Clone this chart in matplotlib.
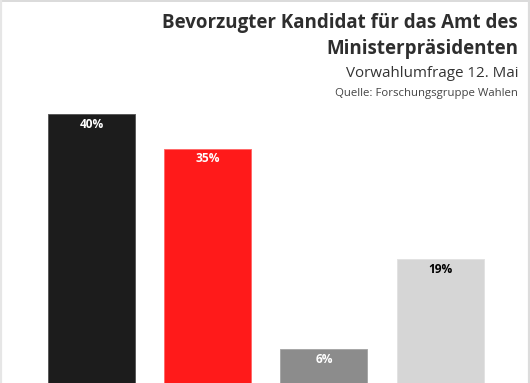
import matplotlib.pyplot as plt
from matplotlib.lines import Line2D

# Daten der Umfrage
kandidaten = ["CDU", "SPD", "Andere", "Weiß nicht"]
werte = [40, 35, 6, 19]
farben = ["#1c1c1c", "#ff1a1a", "#8c8c8c", "#d6d6d6"]
randfarben = ["#5a5a5a", "#ff6a6a", "#a8a8a8", "#e2e2e2"]
labelfarben = ["white", "white", "white", "black"]

plt.rcParams['font.family'] = ['Open Sans', 'DejaVu Sans']

W, H = 530, 383
fig = plt.figure(figsize=(W / 100, H / 100), dpi=100)
fig.patch.set_facecolor("white")

# Achse ragt unten über das Bild hinaus (abgeschnittene Grafik)
ax = fig.add_axes([33.4 / W, -7.5 / H, 464.8 / W, 276.5 / H])
ax.bar(range(len(werte)), werte, width=0.75, color=farben,
       edgecolor=randfarben, linewidth=0.7)
for i, v in enumerate(werte):
    ax.text(i, v - 1.5, f"{v}%", ha="center", va="center",
            color=labelfarben[i], fontsize=8.6, fontweight="bold")
ax.set_xlim(-0.5, len(werte) - 0.5)
ax.set_ylim(0, 40)
ax.axis("off")

# Titel und Untertitel
x_r = 518 / W
fig.text(x_r, 1 - 28 / H, "Bevorzugter Kandidat für das Amt des", ha="right",
         va="baseline", fontsize=13.5, fontweight="bold", color="#2e2e2e")
fig.text(x_r, 1 - 54 / H, "Ministerpräsidenten", ha="right",
         va="baseline", fontsize=13.5, fontweight="bold", color="#2e2e2e")
fig.text(x_r, 1 - 77 / H, "Vorwahlumfrage 12. Mai", ha="right",
         va="baseline", fontsize=10.9, color="#333333")
fig.text(x_r, 1 - 96 / H, "Quelle: Forschungsgruppe Wahlen", ha="right",
         va="baseline", fontsize=8.2, color="#444444")

# Rahmen oben, links, rechts
rahmen = "#d4d4d4"
fig.add_artist(Line2D([0, 1], [1 - 0.5 / H, 1 - 0.5 / H], color=rahmen, lw=1.2))
fig.add_artist(Line2D([0.8 / W, 0.8 / W], [0, 1], color="#e6e6e6", lw=1.6))
fig.add_artist(Line2D([528.5 / W, 528.5 / W], [0, 1], color="#dcdcdc", lw=1.6))

fig.savefig("out.png", dpi=100)
